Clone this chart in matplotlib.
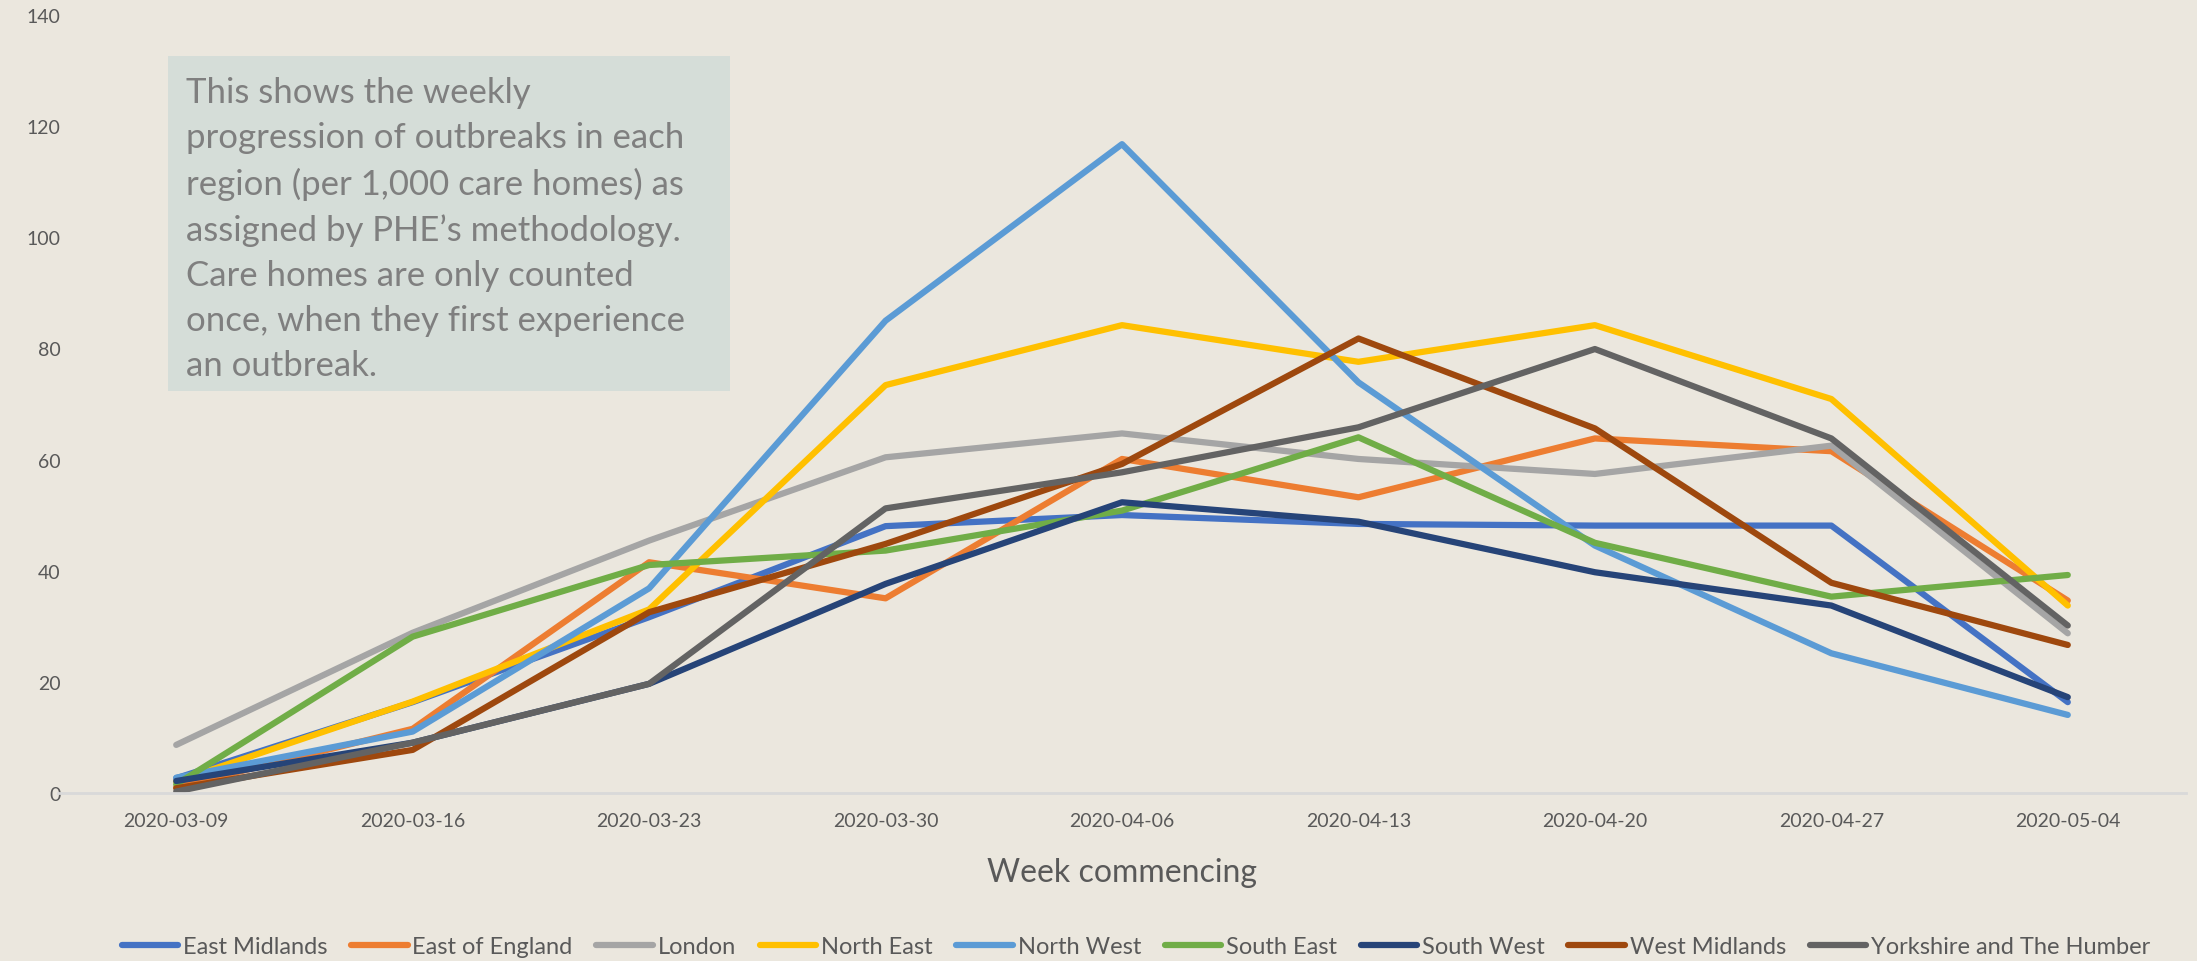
# weekly care home outbreaks per region (per 1,000 care homes)

import matplotlib
matplotlib.use("Agg")
import matplotlib.pyplot as plt
from matplotlib.patches import Rectangle

weeks = ["2020-03-09", "2020-03-16", "2020-03-23", "2020-03-30", "2020-04-06",
         "2020-04-13", "2020-04-20", "2020-04-27", "2020-05-04"]

east_midlands = [2.6, 16.3, 31.6, 48.0, 50.0, 48.4, 48.1, 48.1, 16.3]
east_of_england = [1.0, 11.5, 41.5, 35.0, 60.1, 53.2, 63.8, 61.5, 34.6]
london = [8.6, 28.8, 45.4, 60.4, 64.7, 60.1, 57.4, 62.5, 28.7]
north_east = [2.0, 16.4, 33.0, 73.4, 84.2, 77.6, 84.2, 70.9, 33.7]
north_west = [2.7, 11.0, 36.8, 85.0, 116.8, 73.9, 44.5, 25.1, 14.0]
south_east = [1.5, 28.1, 41.0, 43.6, 50.8, 64.0, 45.0, 35.3, 39.2]
south_west = [2.1, 9.0, 19.6, 37.6, 52.3, 48.8, 39.7, 33.7, 17.2]
west_midlands = [0.8, 7.7, 32.5, 44.8, 59.2, 81.8, 65.6, 37.8, 26.6]
yorkshire = [0.2, 9.0, 19.6, 51.2, 57.7, 65.8, 79.9, 63.8, 30.1]

regions = ["East Midlands", "East of England", "London", "North East", "North West",
           "South East", "South West", "West Midlands", "Yorkshire and The Humber"]
series = [east_midlands, east_of_england, london, north_east, north_west,
          south_east, south_west, west_midlands, yorkshire]
colours = ["#4472C4", "#ED7D31", "#A5A5A5", "#FFC000", "#5B9BD5",
           "#70AD47", "#264478", "#9E480E", "#636363"]

note = ("This shows the weekly\n"
        "progression of outbreaks in each\n"
        "region (per 1,000 care homes) as\n"
        "assigned by PHE\u2019s methodology.\n"
        "Care homes are only counted\n"
        "once, when they first experience\n"
        "an outbreak.")

bg = "#EBE7DE"
plt.rcParams["font.family"] = ["Lato", "DejaVu Sans"]

fig = plt.figure(figsize=(21.97, 9.62), dpi=100, facecolor=bg)
ax = fig.add_axes([0.0264, 0.175, 0.9686, 0.808])
ax.set_facecolor(bg)

x = list(range(len(weeks)))
for name, vals, col in zip(regions, series, colours):
    ax.plot(x, vals, color=col, lw=4.5, label=name, solid_capstyle="round")

ax.set_xlim(-0.5, len(weeks) - 0.5)
ax.set_ylim(0, 140)
ax.set_yticks(range(0, 141, 20))
ax.set_xticks(x)
ax.set_xticklabels(weeks)
ax.tick_params(axis="both", length=0, colors="#595959", labelsize=14)
ax.tick_params(axis="x", pad=14)
ax.tick_params(axis="y", pad=-2)
for s in ["top", "right", "left"]:
    ax.spines[s].set_visible(False)
ax.spines["bottom"].set_color("#D9D9D9")
ax.spines["bottom"].set_linewidth(2)

ax.set_xlabel("Week commencing", fontsize=23, color="#595959", labelpad=20)

leg = fig.legend(loc="lower center", bbox_to_anchor=(0.517, -0.018), ncol=9,
                 frameon=False, fontsize=17, handlelength=2.4, handletextpad=0.2,
                 columnspacing=1.0)
for t in leg.get_texts():
    t.set_color("#595959")
for h in leg.get_lines():
    h.set_linewidth(4.5)

# note box in the top-left
fig.patches.append(Rectangle((0.0765, 0.5925), 0.2558, 0.348,
                             transform=fig.transFigure, facecolor="#D5DDD8",
                             edgecolor="none", zorder=5))
fig.text(0.0845, 0.92, note, fontsize=25, color="#7F7F7F", va="top", ha="left",
         linespacing=1.5, zorder=6)

fig.savefig("out.png", dpi=100, facecolor=bg)
